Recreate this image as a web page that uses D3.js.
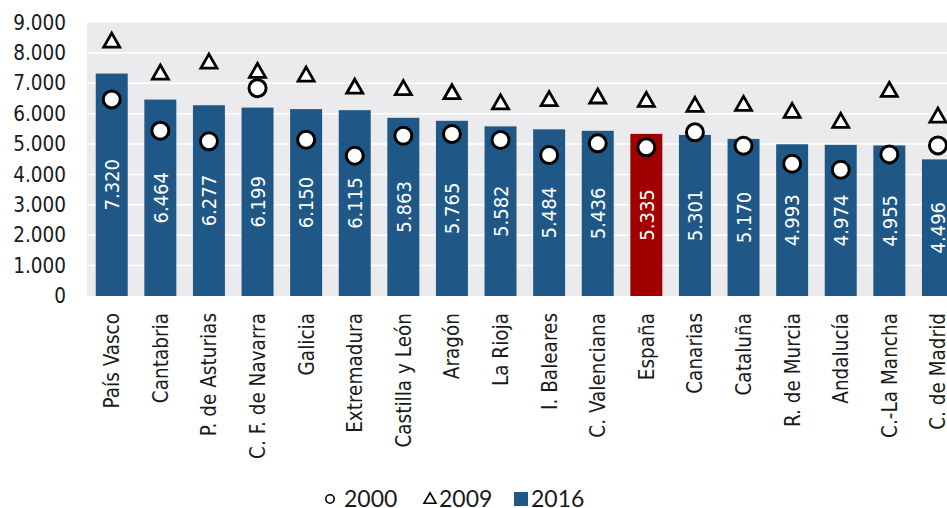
<!DOCTYPE html>
<html>
<head>
<meta charset="utf-8">
<script src="https://d3js.org/d3.v7.min.js"></script>
<style>
    body { margin: 0; background: #fff; }
    .axis-label { font-family: "DejaVu Sans Condensed", "DejaVu Sans", sans-serif; font-size: 20.5px; fill: #1a1a1a; }
    .bar-label { font-family: "DejaVu Sans Condensed", "DejaVu Sans", sans-serif; font-size: 20px; fill: #fff; }
    .legendtext { font-family: Lato, "Noto Sans", sans-serif; font-size: 23px; fill: #1a1a1a; }
</style>
</head>
<body>
<div id="chart-area"></div>
<script>

// Regions, sorted by 2016 value
var regions = ["País Vasco", "Cantabria", "P. de Asturias", "C. F. de Navarra", "Galicia",
    "Extremadura", "Castilla y León", "Aragón", "La Rioja", "I. Baleares", "C. Valenciana",
    "España", "Canarias", "Cataluña", "R. de Murcia", "Andalucía", "C.-La Mancha", "C. de Madrid"];

var values2016 = [7320, 6464, 6277, 6199, 6150, 6115, 5863, 5765, 5582, 5484, 5436,
    5335, 5301, 5170, 4993, 4974, 4955, 4496];

var values2000 = [6470, 5440, 5090, 6840, 5140, 4615, 5273, 5329, 5132, 4638, 5023,
    4891, 5385, 4945, 4353, 4156, 4660, 4956];

var values2009 = [8438, 7390, 7750, 7445, 7320, 6924, 6875, 6743, 6408, 6513, 6601,
    6491, 6326, 6360, 6129, 5800, 6820, 5970];

var yTicks = [0, 1000, 2000, 3000, 4000, 5000, 6000, 7000, 8000, 9000];

var legendItems = ["2000", "2009", "2016"];

var width = 947,
    height = 508;

var plot = {left: 87, top: 22.5, bottom: 296};

var svg = d3.select("#chart-area")
    .append("svg")
    .attr("width", width)
    .attr("height", height);

// spanish number format: 9.000
var es = d3.formatLocale({decimal: ",", thousands: ".", grouping: [3], currency: ["", " €"]});
var fmt = es.format(",.0f");

var data = regions.map(function(d, i) {
    return {name: d, v2016: values2016[i], v2000: values2000[i], v2009: values2009[i]};
});

// the chart is cut on the right, so the band runs past the svg edge
var step = 48.6;
var x = d3.scaleBand()
    .domain(regions)
    .range([plot.left, plot.left + step * (regions.length - 0.342 + 0.36)])
    .paddingInner(0.342)
    .paddingOuter(0.18);

var y = d3.scaleLinear()
    .domain([0, 9000])
    .range([plot.bottom, plot.top]);

// grey plot background
svg.append("rect")
    .attr("x", plot.left)
    .attr("y", plot.top)
    .attr("width", width - plot.left)
    .attr("height", plot.bottom - plot.top)
    .attr("fill", "#ebebed");

// gridlines
svg.selectAll(".grid")
    .data(yTicks.slice(1, -1))
    .enter().append("line")
    .attr("class", "grid")
    .attr("x1", plot.left)
    .attr("x2", width)
    .attr("y1", function(d) { return y(d); })
    .attr("y2", function(d) { return y(d); })
    .attr("stroke", "#fff")
    .attr("stroke-width", 1.5);

// y axis labels
var yAxis = d3.axisLeft(y)
    .tickValues(yTicks)
    .tickFormat(fmt)
    .tickSize(0)
    .tickPadding(21);

var yg = svg.append("g")
    .attr("transform", "translate(" + plot.left + ",0)")
    .call(yAxis);
yg.select(".domain").remove();
yg.selectAll("text")
    .attr("class", "axis-label")
    .attr("font-family", null)
    .attr("font-size", null);

// bars
svg.selectAll(".bar")
    .data(data)
    .enter().append("rect")
    .attr("class", "bar")
    .attr("x", function(d) { return x(d.name); })
    .attr("y", function(d) { return y(d.v2016); })
    .attr("width", x.bandwidth())
    .attr("height", function(d) { return y(0) - y(d.v2016); })
    .attr("fill", function(d) { return d.name == "España" ? "#a00000" : "#1f5886"; });

// value labels inside the bars
svg.selectAll(".bar-label")
    .data(data)
    .enter().append("text")
    .attr("class", "bar-label")
    .attr("text-anchor", "middle")
    .attr("dy", "0.36em")
    .attr("transform", function(d) {
        var cx = x(d.name) + x.bandwidth() / 2;
        var cy = (y(d.v2016) + y(0)) / 2;
        return "translate(" + cx + "," + cy + ") rotate(-90)";
    })
    .text(function(d) { return fmt(d.v2016); });

// triangle path centred on its box
function triangle(w, h) {
    return "M0," + (-h / 2) + "L" + (w / 2) + "," + (h / 2) + "L" + (-w / 2) + "," + (h / 2) + "Z";
}

// 2009 triangles
svg.selectAll(".tri")
    .data(data)
    .enter().append("path")
    .attr("class", "tri")
    .attr("d", triangle(16, 14))
    .attr("transform", function(d) {
        return "translate(" + (x(d.name) + x.bandwidth() / 2) + "," + (y(d.v2009) + 0.6) + ")";
    })
    .attr("fill", "#fff")
    .attr("stroke", "#000")
    .attr("stroke-width", 2.8);

// 2000 circles
svg.selectAll(".dot")
    .data(data)
    .enter().append("circle")
    .attr("class", "dot")
    .attr("cx", function(d) { return x(d.name) + x.bandwidth() / 2; })
    .attr("cy", function(d) { return y(d.v2000); })
    .attr("r", 8.5)
    .attr("fill", "#fff")
    .attr("stroke", "#000")
    .attr("stroke-width", 3);

// category labels
svg.selectAll(".cat-label")
    .data(regions)
    .enter().append("text")
    .attr("class", "axis-label")
    .attr("text-anchor", "end")
    .attr("dy", "0.36em")
    .attr("transform", function(d) {
        return "translate(" + (x(d) + x.bandwidth() / 2) + ",313) rotate(-90)";
    })
    .text(function(d) { return d; });

// legend
var legend = svg.append("g")
    .attr("transform", "translate(0,499)");

legend.append("circle")
    .attr("cx", 330)
    .attr("cy", 0)
    .attr("r", 4.2)
    .attr("fill", "#fff")
    .attr("stroke", "#000")
    .attr("stroke-width", 1.6);

legend.append("path")
    .attr("d", triangle(12, 10.5))
    .attr("transform", "translate(430,-1)")
    .attr("fill", "#fff")
    .attr("stroke", "#000")
    .attr("stroke-width", 1.6);

legend.append("rect")
    .attr("x", 514)
    .attr("y", -7)
    .attr("width", 14)
    .attr("height", 14)
    .attr("fill", "#1f5886");

legend.selectAll(".legendtext")
    .data(legendItems)
    .enter().append("text")
    .attr("class", "legendtext")
    .attr("x", function(d, i) { return [344, 439, 531][i]; })
    .attr("y", 7.5)
    .text(function(d) { return d; });

</script>
</body>
</html>
